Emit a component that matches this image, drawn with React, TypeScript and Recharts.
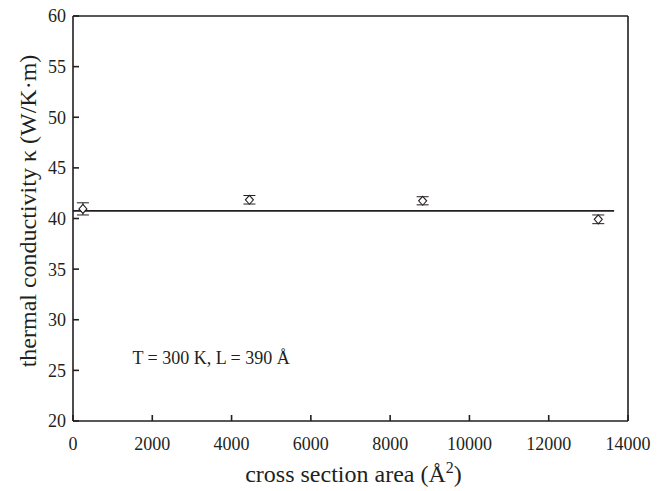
import {
  ComposedChart,
  Scatter,
  ErrorBar,
  XAxis,
  YAxis,
  ReferenceLine,
  ReferenceDot,
  Label,
} from 'recharts';

const areas = [250, 4450, 8820, 13250];
const kappa = [40.95, 41.85, 41.75, 39.92];
const kappaErr = [0.6, 0.42, 0.4, 0.43];

const fitValue = 40.75;
const fitRange = [0, 13650];

const xTicks = [0, 2000, 4000, 6000, 8000, 10000, 12000, 14000];
const yTicks = [20, 25, 30, 35, 40, 45, 50, 55, 60];

const INK = '#231f20';
const FONT = '"Liberation Serif", "DejaVu Serif", serif';

const points = areas.map((a, i) => ({ area: a, kappa: kappa[i], err: kappaErr[i] }));

function Diamond(props: any) {
  const { cx, cy } = props;
  if (cx == null || cy == null) return null;
  return (
    <polygon
      points={`${cx},${cy - 4.5} ${cx + 4},${cy} ${cx},${cy + 4.5} ${cx - 4},${cy}`}
      fill="#fff"
      stroke={INK}
      strokeWidth={1.1}
    />
  );
}

function XTitle(props: any) {
  const vb = props.viewBox || {};
  const cx = vb.x + vb.width / 2 + 3;
  return (
    <text x={cx} y={482} textAnchor="middle" fontFamily={FONT} fontSize={24} fill={INK}>
      cross section area (Å
      <tspan dy={-9} fontSize={16}>2</tspan>
      <tspan dy={9}>)</tspan>
    </text>
  );
}

function YTitle() {
  return (
    <text
      x={0}
      y={0}
      transform="translate(36, 211) rotate(-90)"
      textAnchor="middle"
      fontFamily={FONT}
      fontSize={24}
      fill={INK}
    >
      thermal conductivity κ (W/K·m)
    </text>
  );
}

export default function App() {
  const tickStyle = { fontFamily: FONT, fontSize: 18, fill: INK };
  return (
    <div style={{ position: 'absolute', left: 0, top: 0, background: '#fff' }}>
      <ComposedChart
        width={667}
        height={491}
        data={points}
        margin={{ top: 15, right: 38, left: 0, bottom: 0 }}
      >
        <XAxis
          xAxisId="b"
          dataKey="area"
          type="number"
          domain={[0, 14000]}
          ticks={xTicks}
          height={70}
          stroke={INK}
          strokeWidth={1.6}
          tickSize={-6}
          tickMargin={22}
          tick={tickStyle}
          interval={0}
        >
          <Label content={<XTitle />} />
        </XAxis>
        <XAxis
          xAxisId="t"
          orientation="top"
          type="number"
          domain={[0, 14000]}
          ticks={xTicks}
          height={1}
          stroke={INK}
          strokeWidth={1.6}
          tickSize={-6}
          tick={false}
          interval={0}
        />
        <YAxis
          yAxisId="l"
          type="number"
          domain={[20, 60]}
          ticks={yTicks}
          width={73}
          stroke={INK}
          strokeWidth={1.6}
          tickSize={-6}
          tickMargin={13}
          tick={tickStyle}
          interval={0}
        >
          <Label content={<YTitle />} />
        </YAxis>
        <YAxis
          yAxisId="r"
          orientation="right"
          type="number"
          domain={[20, 60]}
          ticks={yTicks}
          width={1}
          stroke={INK}
          strokeWidth={1.6}
          tickSize={-6}
          tick={false}
          interval={0}
        />
        <ReferenceLine
          xAxisId="b"
          yAxisId="l"
          segment={[
            { x: fitRange[0], y: fitValue },
            { x: fitRange[1], y: fitValue },
          ]}
          stroke={INK}
          strokeWidth={1.8}
        />
        <Scatter
          xAxisId="b"
          yAxisId="l"
          dataKey="kappa"
          shape={<Diamond />}
          isAnimationActive={false}
        >
          <ErrorBar dataKey="err" direction="y" width={6} stroke={INK} strokeWidth={1} />
        </Scatter>
        <ReferenceDot
          xAxisId="b"
          yAxisId="l"
          x={1500}
          y={26.3}
          r={0}
          stroke="none"
          fill="none"
          label={{
            value: 'T = 300 K, L = 390 Å',
            position: 'right',
            offset: 0,
            fontFamily: FONT,
            fontSize: 18,
            fill: INK,
          }}
        />
      </ComposedChart>
    </div>
  );
}
